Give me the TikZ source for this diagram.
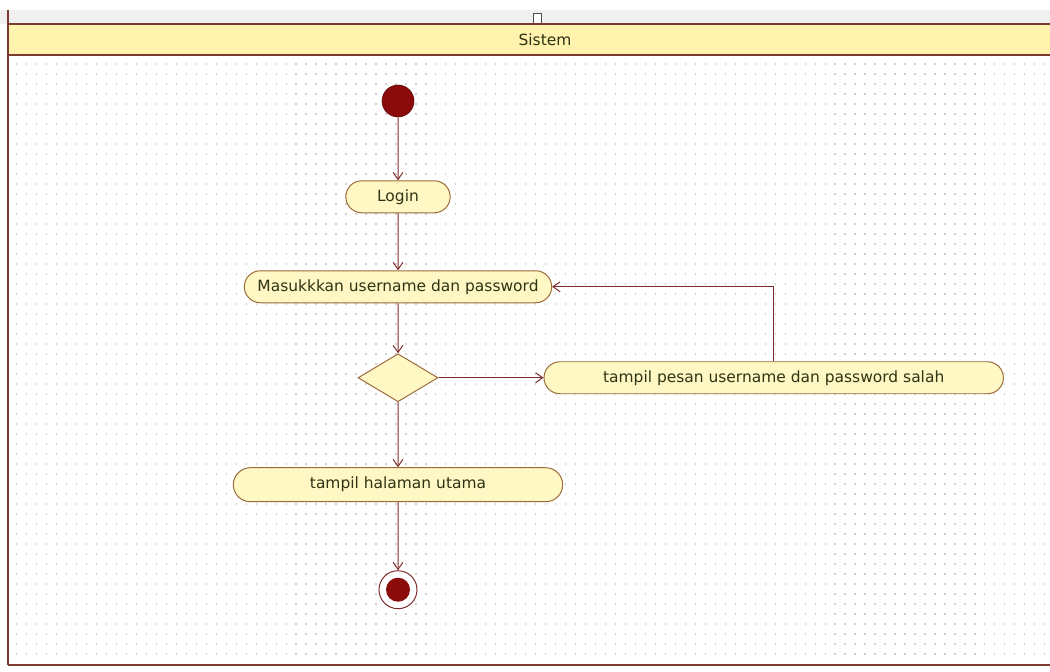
\documentclass[tikz,border=0pt]{standalone}
\usepackage{fontspec}
\setmainfont{DejaVu Sans}
\usetikzlibrary{arrows.meta,positioning,shapes.geometric,shapes.misc}
\definecolor{actfill}{HTML}{FFF8C4}
\definecolor{actline}{HTML}{9A6A3A}
\definecolor{flowline}{HTML}{7F2A2A}
\definecolor{lanefill}{HTML}{FFF3AE}
\definecolor{laneline}{HTML}{7A3B2E}
\definecolor{dotgray}{HTML}{CFCFCF}
\definecolor{dotred}{HTML}{8B0A0A}
\definecolor{txt}{HTML}{2E3313}

\begin{document}
\begin{tikzpicture}[
  act/.style={draw=actline, fill=actfill, rounded rectangle, minimum height=0.8cm, inner sep=2pt, font=\fontsize{11}{13}\selectfont, text=txt, line width=0.7pt},
  choice/.style={draw=actline, fill=actfill, diamond, minimum width=2cm, minimum height=1.2cm, inner sep=0pt, line width=0.7pt},
  startdot/.style={circle, draw=dotred!70!black, fill=dotred, minimum size=0.8cm, inner sep=0pt},
  enddot/.style={circle, draw=flowline, fill=white, minimum size=0.95cm, inner sep=0pt, line width=0.7pt},
  arr/.style={-{Straight Barb[length=5pt,width=7pt]}, flowline, line width=0.7pt}
]
  \useasboundingbox (0,0) rectangle (26.25,-16.775);
  % swimlane and grid
  \fill[gray!12] (0,-0.25) rectangle (26.25,-0.6);
  \draw[black!70, fill=white] (13.33,-0.33) rectangle (13.52,-0.58);
  \fill[lanefill] (0.2,-0.6) rectangle (26.25,-1.375);
  \foreach \yy in {1.6,1.85,...,16.5}
    \draw[dotgray, line width=0.9pt, dash pattern=on 0.9pt off 6.2pt] (0.4,-\yy) -- (26.25,-\yy);
  \draw[laneline, line width=1.3pt] (0.2,-0.6) -- (26.25,-0.6);
  \draw[laneline, line width=1.3pt] (0.2,-1.375) -- (26.25,-1.375);
  \draw[laneline, line width=1.3pt] (0.2,-16.625) -- (26.25,-16.625);
  \draw[laneline, line width=1.3pt] (0.2,-0.25) -- (0.2,-16.625);
  \node[font=\fontsize{11}{13}\selectfont, text=txt] (lane) at (13.625,-0.99) {Sistem};

  \node[startdot] (start) at (9.95,-2.525) {};
  \node[act, minimum width=2.75cm, below=1.575cm of start] (login) {Login};
  \node[act, minimum width=7.825cm, below=1.425cm of login] (masuk) {Masukkkan username dan password};
  \node[choice, below=1.25cm of masuk] (cek) {};
  \node[act, minimum width=11.625cm, right=2.625cm of cek] (salah) {tampil pesan username dan password salah};
  \node[act, minimum width=8.375cm, minimum height=0.85cm, below=1.625cm of cek] (utama) {tampil halaman utama};
  \node[enddot, below=1.7cm of utama] (finish) {};
  \node[circle, fill=dotred, minimum size=0.6cm, inner sep=0pt] (finishdot) at (finish) {};

  \draw[arr] (start) -- (login);
  \draw[arr] (login) -- (masuk);
  \draw[arr] (masuk) -- (cek);
  \draw[arr] (cek) -- (salah);
  \draw[arr] (salah.north) |- (masuk.east);
  \draw[arr] (cek) -- (utama);
  \draw[arr] (utama) -- (finish);
\end{tikzpicture}
\end{document}
